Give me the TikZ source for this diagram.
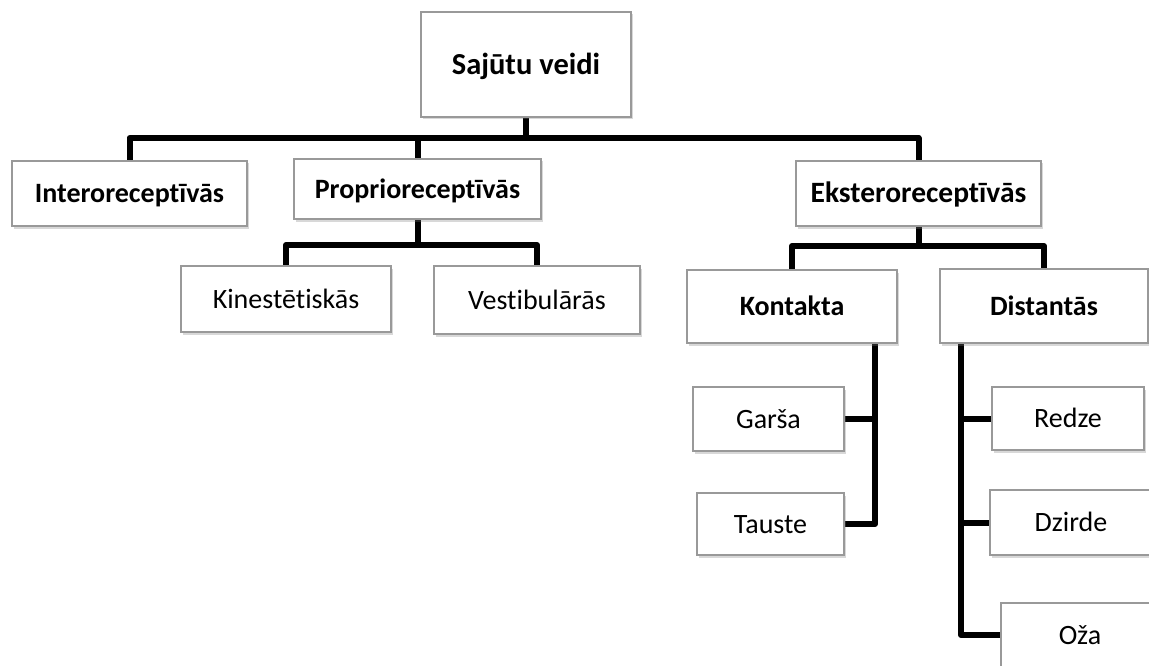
\documentclass[tikz,border=0pt]{standalone}
\usepackage{fontspec}
\setmainfont[Ligatures=NoCommon]{Carlito}
\usetikzlibrary{shadows,backgrounds}
\begin{document}
\begin{tikzpicture}[x=1pt,y=-1pt,
  box/.style={draw=black!40, line width=1.4pt, fill=white, inner sep=0pt,
    text height=18pt, text depth=0pt,
    font=\fontsize{28}{32}\selectfont,
    drop shadow={opacity=0.3, shadow xshift=1.5pt, shadow yshift=-2.5pt}},
  bbox/.style={box, font=\fontsize{28}{32}\selectfont\bfseries},
  conn/.style={line width=6pt, black, line join=round}]
\useasboundingbox (0,0) rectangle (1149,666);
\clip (0,0) rectangle (1149,666);
% level 0
\node[bbox, font=\fontsize{30.5}{34}\selectfont\bfseries, text height=19.5pt, minimum width=210pt, minimum height=105pt] (S) at (526,64.5) {Sajūtu veidi};
% level 1
\node[bbox, minimum width=235pt, minimum height=65pt] (intero) at (129.5,193.5) {Interoreceptīvās};
\node[bbox, minimum width=247pt, minimum height=60pt] (proprio) at (417.5,189) {Proprioreceptīvās};
\node[bbox, font=\fontsize{29.5}{33}\selectfont\bfseries, minimum width=245pt, minimum height=65pt] (ekst) at (918.5,193.5) {Eksteroreceptīvās};
% level 2
\node[box, minimum width=210pt, minimum height=66pt] (kin) at (286,299) {Kinestētiskās};
\node[box, minimum width=206pt, minimum height=68pt] (vest) at (537,300) {Vestibulārās};
\node[bbox, minimum width=210pt, minimum height=73pt] (kont) at (792,306.5) {Kontakta};
\node[bbox, minimum width=208pt, minimum height=74pt] (dist) at (1044,306) {Distantās};
% level 3
\node[box, minimum width=151pt, minimum height=64pt] (gars) at (768.5,419) {Garša};
\node[box, minimum width=147pt, minimum height=62pt] (taus) at (770.5,524) {Tauste};
\node[box, minimum width=152pt, minimum height=63pt] (redze) at (1068,418.5) {Redze};
\node[box, minimum width=162pt, minimum height=65pt] (dzirde) at (1071,522.5) {Dzirde};
\node[box, minimum width=158pt, minimum height=64pt] (oza) at (1080,635) {Oža};
% helper coordinates
\coordinate (bus1) at (0,138);
\coordinate (bus2) at (0,245);
\coordinate (bus3) at (0,246);
\coordinate (kst) at ([xshift=83pt]kont.south);
\coordinate (dst) at ([xshift=-83pt]dist.south);
\begin{pgfonlayer}{background}
\fill[white] (0,0) rectangle (1149,666);
\draw[conn] (intero.north) |- (ekst.north |- bus1) -- (ekst.north);
\draw[conn] (S.south) -- (S.south |- bus1);
\draw[conn] (proprio.north) -- (proprio.north |- bus1);
\draw[conn] (kin.north) |- (vest.north |- bus2) -- (vest.north);
\draw[conn] (proprio.south) -- (proprio.south |- bus2);
\draw[conn] (kont.north) |- (dist.north |- bus3) -- (dist.north);
\draw[conn] (ekst.south) -- (ekst.south |- bus3);
\draw[conn] (kst) |- (taus.east);
\draw[conn] (gars.east) -- (gars.east -| kst);
\draw[conn] (dst) |- (oza.west);
\draw[conn] (redze.west) -- (redze.west -| dst);
\draw[conn] (dzirde.west) -- (dzirde.west -| dst);
\end{pgfonlayer}
\end{tikzpicture}
\end{document}
